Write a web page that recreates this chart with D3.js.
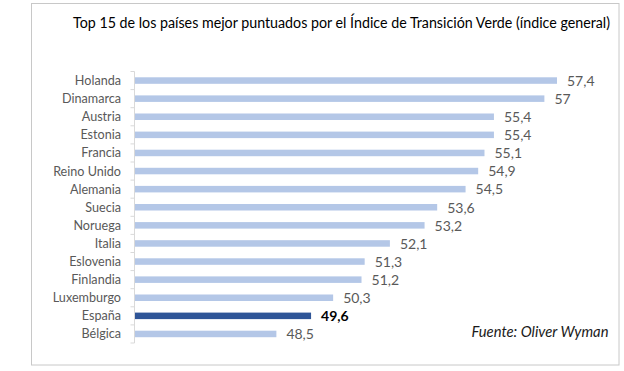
<!DOCTYPE html>
<html><head><meta charset="utf-8">
<script src="https://cdn.jsdelivr.net/npm/d3@7"></script>
<style>body{margin:0;background:#fff}svg{display:block}</style>
</head><body>
<script>
const countries = ["Holanda","Dinamarca","Austria","Estonia","Francia","Reino Unido","Alemania","Suecia","Noruega","Italia","Eslovenia","Finlandia","Luxemburgo","España","Bélgica"];
const scores = [57.4,57,55.4,55.4,55.1,54.9,54.5,53.6,53.2,52.1,51.3,51.2,50.3,49.6,48.5];
const highlight = "España";
const title = "Top 15 de los países mejor puntuados por el Índice de Transición Verde (índice general)";
const source = "Fuente: Oliver Wyman";

const W = 624, H = 371;
const svg = d3.select("body").append("svg").attr("width", W).attr("height", H);
svg.append("rect").attr("x", 31.5).attr("y", 3.5).attr("width", 587.5).attr("height", 361.5)
  .attr("fill", "#fff").attr("stroke", "#c8c8c8").attr("stroke-width", 1);

const fmt = v => String(v).replace(".", ",");
const x = d3.scaleLinear().domain([44, 58]).range([134.5, 134.5 + 14 * 31.53]);
const y = d3.scaleBand().domain(countries).range([71.5, 343]).paddingInner(0.64).paddingOuter(0.32);

svg.append("text").attr("x", 73).attr("y", 28).attr("font-family", "Lato").attr("font-size", 14.5)
  .attr("fill", "#000").attr("textLength", 537).attr("lengthAdjust", "spacingAndGlyphs").text(title);

// axis line + outward ticks at band boundaries
const bounds = d3.range(countries.length + 1).map(i => 71.5 + i * (343 - 71.5) / countries.length);
svg.append("line").attr("x1", x(44)).attr("x2", x(44)).attr("y1", 71.5).attr("y2", 343).attr("stroke", "#d9d9d9");
svg.selectAll("line.tick").data(bounds).join("line").attr("class", "tick")
  .attr("x1", x(44) - 4).attr("x2", x(44)).attr("y1", d => d).attr("y2", d => d).attr("stroke", "#d9d9d9");

svg.selectAll("rect.bar").data(countries).join("rect").attr("class", "bar")
  .attr("x", x(44) + 0.5).attr("y", d => y(d))
  .attr("width", (d, i) => x(scores[i]) - x(44) - 0.5).attr("height", y.bandwidth())
  .attr("fill", d => d === highlight ? "#2f5597" : "#b4c7e7");

svg.selectAll("text.cat").data(countries).join("text").attr("class", "cat")
  .attr("x", 121).attr("y", d => y(d) + y.bandwidth() / 2).attr("dy", "0.36em")
  .attr("text-anchor", "end").attr("font-family", "Lato").attr("font-size", 12.6)
  .attr("fill", "#595959").text(d => d);

svg.selectAll("text.val").data(countries).join("text").attr("class", "val")
  .attr("x", (d, i) => x(scores[i]) + 10).attr("y", d => y(d) + y.bandwidth() / 2).attr("dy", "0.38em")
  .attr("font-family", "Lato").attr("font-size", 14)
  .attr("font-weight", d => d === highlight ? "bold" : "normal")
  .attr("fill", d => d === highlight ? "#000" : "#595959")
  .text((d, i) => fmt(scores[i]));

svg.append("text").attr("x", 608.5).attr("y", 337).attr("text-anchor", "end")
  .attr("font-family", "Lato").attr("font-style", "italic").attr("font-size", 14.8)
  .attr("fill", "#1a1a1a").text(source);
</script>
</body></html>
